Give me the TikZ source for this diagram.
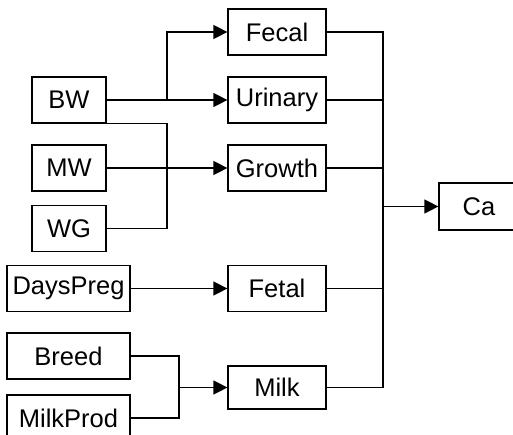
\documentclass[tikz,border=0pt]{standalone}
\usepackage{fontspec}
\setmainfont{Liberation Sans}
\usetikzlibrary{arrows.meta}
\begin{document}
\begin{tikzpicture}[x=1pt,y=-1pt,
  box/.style={draw, line width=1.2pt, inner sep=0pt, minimum height=46pt,
    font=\fontsize{25.5}{30}\selectfont},
  wire/.style={line width=1.2pt},
  feed/.style={wire, -{Triangle[length=14pt,width=14pt]}}]
\useasboundingbox (0,0) rectangle (513,434);
\begin{scope}[overlay]
\clip (0,0) rectangle (513,434);
% outputs
\node[box, minimum width=98pt] (fecal)   at (277,32)    {Fecal};
\node[box, minimum width=98pt] (urinary) at (277,100)   {Urinary};
\node[box, minimum width=98pt] (growth)  at (277,168)   {Growth};
\node[box, minimum width=98pt] (fetal)   at (277,288.5) {Fetal};
\node[box, minimum width=98pt, minimum height=43pt] (milk) at (277,387.5) {Milk};
\node[box, minimum width=80pt, minimum height=47pt] (ca) at (479,206.5) {Ca};
% inputs
\node[box, minimum width=74pt] (bw) at (69,100)   {BW};
\node[box, minimum width=74pt] (mw) at (69,168)   {MW};
\node[box, minimum width=74pt] (wg) at (69,228.5) {WG};
\node[box, minimum width=123pt] (dayspreg) at (68.5,288.5) {DaysPreg};
\node[box, minimum width=123pt] (breed)    at (68.5,356)   {Breed};
\node[box, minimum width=123pt] (milkprod) at (68.5,418)   {MilkProd};
% bus columns
\coordinate (xa) at (167,0);
\coordinate (xb) at (179,0);
\coordinate (xc) at (383,0);
% body weight feeds fecal and urinary
\draw[feed] (bw.east) -- (urinary.west);
\draw[feed] (bw.east -| xa) |- (fecal.west);
% growth inputs
\draw[wire] (bw.south east) -| (xa |- wg.east) -- (wg.east);
\draw[feed] (mw.east) -- (growth.west);
% pregnancy
\draw[feed] (dayspreg.east) -- (fetal.west);
% milk inputs
\draw[wire] (breed.east) -| (xb |- milkprod.east) -- (milkprod.east);
\draw[feed] (xb |- milk.west) -- (milk.west);
% collect into Ca
\draw[wire] (fecal.east) -| (xc |- milk.east) -- (milk.east);
\draw[wire] (urinary.east) -- (xc |- urinary.east);
\draw[wire] (growth.east) -- (xc |- growth.east);
\draw[wire] (fetal.east) -- (xc |- fetal.east);
\draw[feed] (xc |- ca.west) -- (ca.west);
\end{scope}
\end{tikzpicture}
\end{document}
